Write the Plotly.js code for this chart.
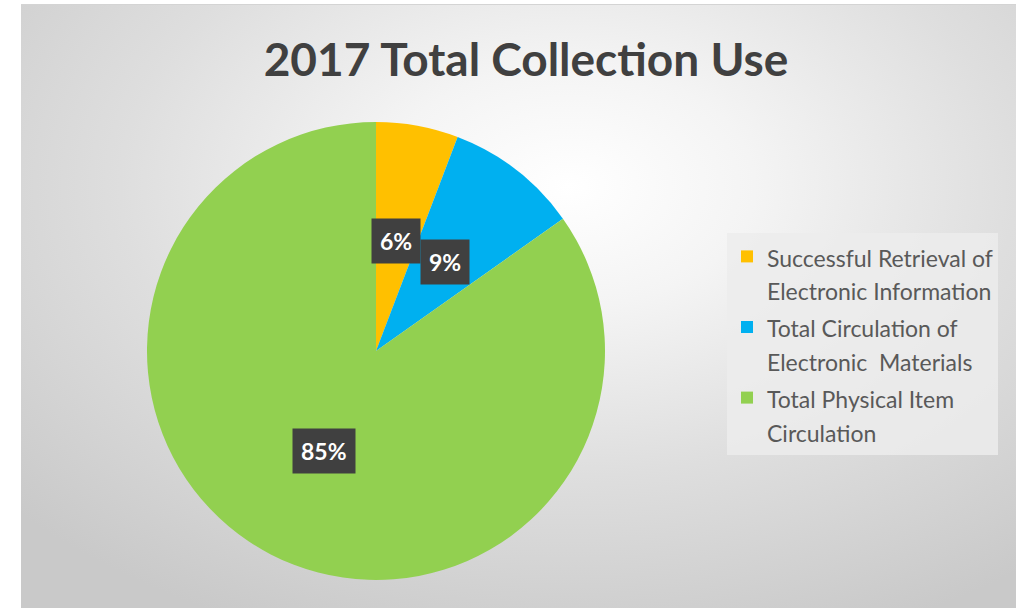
<!DOCTYPE html>
<html>
<head>
<meta charset="utf-8">
<script src="https://cdn.plot.ly/plotly-3.0.1.min.js"></script>
<style>
  html, body { margin: 0; padding: 0; background: #ffffff; }
  #wrap { position: relative; width: 1016px; height: 608px; overflow: hidden; }
  #bg { position: absolute; left: 21px; top: 4px; width: 995px; height: 604px;
        border-top: 1px solid #d4d4d4;
        background: radial-gradient(ellipse 75% 80% at 55% 30%, #ffffff 0%, #f4f4f4 25%, #dedede 60%, #c9c9c9 100%); }
  #chart { position: absolute; left: 0; top: 0; width: 1016px; height: 608px; }
</style>
</head>
<body>
<div id="wrap">
  <div id="bg"></div>
  <div id="chart"></div>
</div>
<script>
// ---- data ----
const categoryLines = [
  ['Successful Retrieval of', 'Electronic Information'],
  ['Total Circulation of', 'Electronic  Materials'],
  ['Total Physical Item', 'Circulation']
];
const values = [5.8, 9.4, 84.8];
const colors = ['#FFC000', '#00B0F0', '#92D050'];
const chartTitle = '2017 Total Collection Use';

// legend labels: two lines each, text drawn slightly smaller than the legend line height
const categories = categoryLines.map(ls =>
  ls.map(l => '<span style="font-size:23px">' + l + '</span>').join('<br>'));

// ---- layout geometry ----
const W = 1016, H = 608;
const domX = [147 / W, 605 / W];
const domY = [1 - 580 / H, 1 - 122 / H];

// label positions derived from the data (mid-angle of each slice)
const total = values.reduce((a, b) => a + b, 0);
const cxPx = (domX[0] + domX[1]) / 2 * W;
const cyPx = (1 - (domY[0] + domY[1]) / 2) * H;
const R = Math.min((domX[1] - domX[0]) * W, (domY[1] - domY[0]) * H) / 2;
let cum = 0;
const annotations = values.map((v, i) => {
  const mid = (cum + v / 2) / total * 2 * Math.PI;
  cum += v;
  const px = cxPx + 0.49 * R * Math.sin(mid);
  const py = cyPx - 0.49 * R * Math.cos(mid);
  return {
    x: px / W, y: 1 - py / H, xref: 'paper', yref: 'paper',
    xanchor: 'center', yanchor: 'middle', showarrow: false,
    text: '<b>' + Math.round(v / total * 100) + '%</b>',
    font: { family: 'Lato, sans-serif', size: 23, color: '#ffffff' },
    bgcolor: '#404040', borderpad: 8
  };
});

const trace = {
  type: 'pie',
  labels: categories,
  values: values,
  sort: false,
  direction: 'clockwise',
  rotation: 0,
  textinfo: 'none',
  hoverinfo: 'label+percent',
  marker: { colors: colors, line: { width: 0 } },
  domain: { x: domX, y: domY }
};

const layout = {
  width: W, height: H,
  margin: { l: 0, r: 0, t: 0, b: 0 },
  paper_bgcolor: 'rgba(0,0,0,0)',
  plot_bgcolor: 'rgba(0,0,0,0)',
  title: {
    text: '<b>' + chartTitle + '</b>',
    font: { family: 'Lato, sans-serif', size: 46, color: '#404040' },
    x: 526 / W, xanchor: 'center', xref: 'paper',
    y: 1 - 60 / H, yanchor: 'middle', yref: 'container'
  },
  showlegend: true,
  legend: {
    x: 727 / W, xanchor: 'left',
    y: 1 - 233 / H, yanchor: 'top',
    bgcolor: 'rgba(236,236,236,0.85)',
    font: { family: 'Lato, sans-serif', size: 26, color: '#595959' },
    valign: 'top',
    entrywidth: 316, entrywidthmode: 'pixels'
  },
  annotations: annotations
};

Plotly.newPlot('chart', [trace], layout, { displayModeBar: false, staticPlot: true });
</script>
</body>
</html>
